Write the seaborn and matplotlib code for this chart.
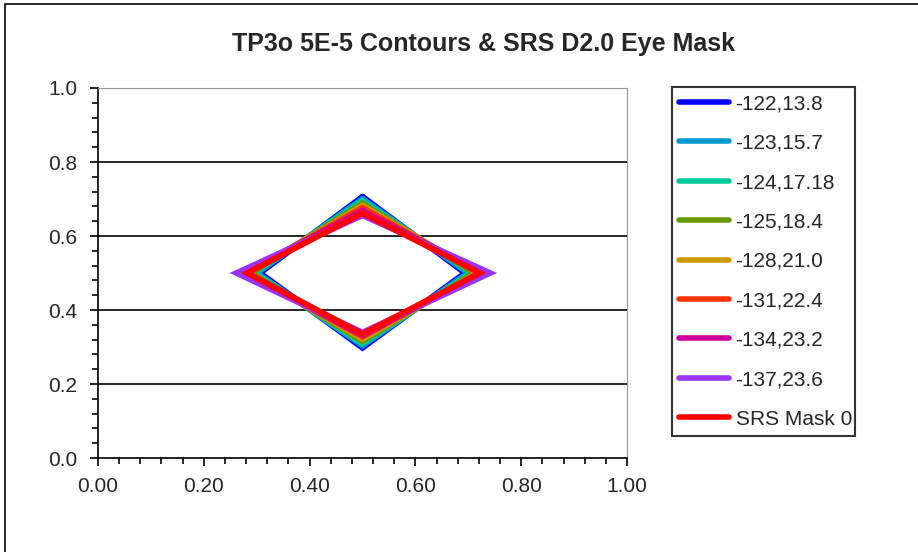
import pandas as pd
import seaborn as sns
import matplotlib.pyplot as plt
from matplotlib.ticker import MultipleLocator, FormatStrFormatter
from matplotlib.patches import Rectangle

# contour labels, colours and diamond vertices
labels = ['-122,13.8', '-123,15.7', '-124,17.18', '-125,18.4',
          '-128,21.0', '-131,22.4', '-134,23.2', '-137,23.6', 'SRS Mask 0']
colors = ['#0000FF', '#0099CC', '#00CC99', '#669900',
          '#CC9900', '#FF3300', '#CC0099', '#9933FF', '#FF0000']
top_y = [0.706, 0.700, 0.694, 0.688, 0.682, 0.676, 0.668, 0.656, 0.662]
bottom_y = [0.298, 0.304, 0.310, 0.316, 0.322, 0.328, 0.332, 0.339, 0.335]
left_x = [0.306, 0.300, 0.295, 0.290, 0.284, 0.280, 0.276, 0.262, 0.282]
right_x = [0.694, 0.700, 0.706, 0.712, 0.718, 0.722, 0.726, 0.741, 0.722]
center = 0.5

rows = []
for i, lab in enumerate(labels):
    pts = [(center, top_y[i]), (right_x[i], center), (center, bottom_y[i]),
           (left_x[i], center), (center, top_y[i])]
    for x, y in pts:
        rows.append({'series': lab, 'x': x, 'y': y})
df = pd.DataFrame(rows)

sns.set_style('white')
plt.rcParams['font.family'] = ['Liberation Sans', 'DejaVu Sans']
plt.rcParams['lines.solid_joinstyle'] = 'miter'

fig = plt.figure(figsize=(9.18, 5.52), dpi=100)
fig.patches.append(Rectangle((5 / 918, -0.01), 1.0, 1 - 4 / 552 + 0.01,
                             transform=fig.transFigure, fill=False,
                             edgecolor='black', linewidth=1.2))
ax = fig.add_axes([98 / 918, (552 - 458) / 552, 529 / 918, 370 / 552])

sns.lineplot(data=df, x='x', y='y', hue='series', hue_order=labels,
             palette=dict(zip(labels, colors)), sort=False, estimator=None,
             linewidth=4.3, ax=ax)

ax.set_xlim(0, 1)
ax.set_ylim(0, 1)
ax.xaxis.set_major_locator(MultipleLocator(0.2))
ax.xaxis.set_minor_locator(MultipleLocator(0.04))
ax.yaxis.set_major_locator(MultipleLocator(0.2))
ax.yaxis.set_minor_locator(MultipleLocator(0.04))
ax.xaxis.set_major_formatter(FormatStrFormatter('%.2f'))
ax.yaxis.set_major_formatter(FormatStrFormatter('%.1f'))
ax.tick_params(which='both', direction='out', color='black', width=1.2,
               labelsize=15, bottom=True, left=True)
ax.tick_params(which='major', length=6)
ax.tick_params(which='minor', length=4.5)
ax.tick_params(axis='x', which='major', pad=8)
ax.tick_params(axis='y', which='major', pad=9)
for y in [0.2, 0.4, 0.6, 0.8]:
    ax.axhline(y, color='black', linewidth=1.2, zorder=0)
for side in ['left', 'bottom']:
    ax.spines[side].set_color('black')
    ax.spines[side].set_linewidth(1.2)
for side in ['top', 'right']:
    ax.spines[side].set_color('#999999')
ax.set_xlabel('')
ax.set_ylabel('')

handles, labs = ax.get_legend_handles_labels()
ax.get_legend().remove()
leg = fig.legend(handles, labs, loc='upper left', mode='expand',
                 bbox_to_anchor=(672 / 918, 1 - 437 / 552, 183 / 918, 350 / 552),
                 fontsize=15, frameon=True, fancybox=False, edgecolor='black',
                 handlelength=2.4, handletextpad=0.3, labelspacing=0.98,
                 borderpad=0.35, borderaxespad=0)
leg.get_frame().set_linewidth(1.5)
for h in leg.get_lines():
    h.set_linewidth(4)
    h.set_solid_capstyle('round')

fig.text(484 / 918, 1 - 44 / 552, 'TP3o 5E-5 Contours & SRS D2.0 Eye Mask',
         ha='center', va='center', fontsize=18, fontweight='bold')

fig.savefig('out.png', dpi=100)
